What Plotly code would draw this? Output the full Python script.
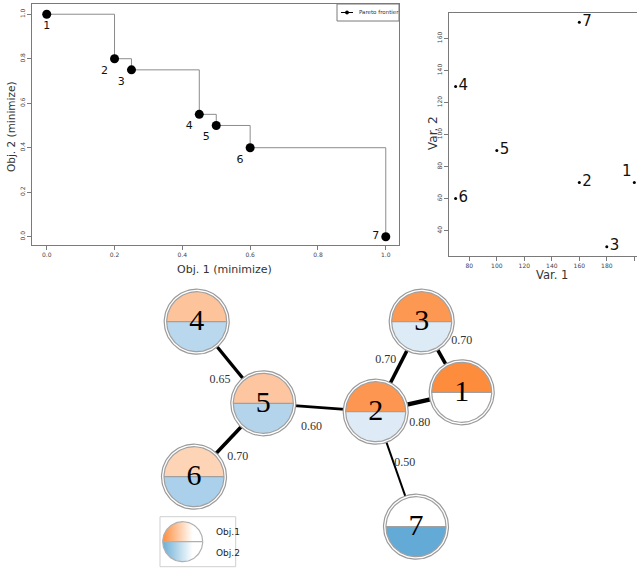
import numpy as np
import plotly.graph_objects as go

# ---------------- data ----------------
ids = ['1', '2', '3', '4', '5', '6', '7']
obj1 = [0.0, 0.2, 0.25, 0.45, 0.5, 0.6, 1.0]
obj2 = [1.0, 0.8, 0.75, 0.55, 0.5, 0.4, 0.0]
var1 = [200, 160, 180, 70, 100, 70, 160]
var2 = [70, 70, 30, 130, 90, 60, 170]

obj_ticks = [0.0, 0.2, 0.4, 0.6, 0.8, 1.0]
var1_ticks = [80, 100, 120, 140, 160, 180, 200]
var2_ticks = [40, 60, 80, 100, 120, 140, 160]

# network layout (node coordinates of the graph drawing)
node_x = [461.7, 375.7, 421.7, 196.7, 263.3, 194.0, 416.0]
node_y = [392.3, 411.7, 321.7, 321.7, 403.3, 476.7, 526.7]
edge_src = ['4', '5', '5', '2', '3', '2', '2']
edge_dst = ['5', '6', '2', '3', '1', '1', '7']
edge_w = [0.65, 0.70, 0.60, 0.70, 0.70, 0.80, 0.50]

# ---------------- styles ----------------
top_colors = ['#fd8d3c', '#fd9650', '#fd9852', '#fdc39a', '#fdc6a0', '#fdd5b6', '#ffffff']
bot_colors = ['#ffffff', '#deebf7', '#dcebf6', '#b9d7ed', '#b4d4eb', '#aad0eb', '#64aad7']
edge_label_offsets = [(-10, 17), (9, 17), (-8, 19), (-13, -7), (20, -16), (1, 21), (9, -6)]
left_textpos = ['bottom center', 'bottom left', 'bottom left', 'bottom left',
                'bottom left', 'bottom left', 'middle left']
right_textpos = ['top left'] + ['middle right'] * 6
FRAME = '#7a7a7a'
W, H = 637, 570

fig = go.Figure()

# ---------------- Pareto plot (left) ----------------
fig.add_trace(go.Scatter(x=obj1, y=obj2, mode='lines', line_shape='hv',
                         line=dict(color='#8c8c8c', width=1), showlegend=False,
                         xaxis='x', yaxis='y'))
fig.add_trace(go.Scatter(x=obj1, y=obj2, mode='markers+text', text=ids,
                         textposition=left_textpos,
                         textfont=dict(family='DejaVu Sans', size=11, color='#111'),
                         marker=dict(color='black', size=9), showlegend=False,
                         xaxis='x', yaxis='y'))

# ---------------- Var plot (right) ----------------
fig.add_trace(go.Scatter(x=var1, y=var2, mode='markers+text', text=ids,
                         textposition=right_textpos,
                         textfont=dict(family='DejaVu Sans', size=15, color='#111'),
                         marker=dict(color='black', size=3), showlegend=False,
                         xaxis='x2', yaxis='y2', cliponaxis=False))

# ---------------- Network (bottom) ----------------
idx = {n: i for i, n in enumerate(ids)}
for s, d, w in zip(edge_src, edge_dst, edge_w):
    i, j = idx[s], idx[d]
    fig.add_trace(go.Scatter(x=[node_x[i], node_x[j]], y=[node_y[i], node_y[j]],
                             mode='lines', line=dict(color='black', width=8 * (w - 0.25)),
                             showlegend=False, xaxis='x3', yaxis='y3', hoverinfo='skip'))

R_OUT, R_IN = 32.5, 30.0
th_full = np.linspace(0, 2 * np.pi, 121)
th_top = np.linspace(0, np.pi, 61)
th_bot = np.linspace(np.pi, 2 * np.pi, 61)
for k in range(len(ids)):
    cx, cy = node_x[k], node_y[k]
    fig.add_trace(go.Scatter(x=cx + R_OUT * np.cos(th_full), y=cy - R_OUT * np.sin(th_full),
                             mode='lines', fill='toself', fillcolor='white',
                             line=dict(color='#9a9a9a', width=1.2), showlegend=False,
                             xaxis='x3', yaxis='y3', hoverinfo='skip'))
    fig.add_trace(go.Scatter(x=cx + R_IN * np.cos(th_top), y=cy - R_IN * np.sin(th_top),
                             mode='lines', fill='toself', fillcolor=top_colors[k],
                             line=dict(width=0), showlegend=False,
                             xaxis='x3', yaxis='y3', hoverinfo='skip'))
    fig.add_trace(go.Scatter(x=cx + R_IN * np.cos(th_bot), y=cy - R_IN * np.sin(th_bot),
                             mode='lines', fill='toself', fillcolor=bot_colors[k],
                             line=dict(width=0), showlegend=False,
                             xaxis='x3', yaxis='y3', hoverinfo='skip'))
    fig.add_trace(go.Scatter(x=list(cx + R_IN * np.cos(th_full)) + [None, cx - R_IN, cx + R_IN],
                             y=list(cy - R_IN * np.sin(th_full)) + [None, cy, cy],
                             mode='lines', line=dict(color='#a0a0a0', width=1.2),
                             showlegend=False, xaxis='x3', yaxis='y3', hoverinfo='skip'))

fig.add_trace(go.Scatter(x=node_x, y=[y + 1 for y in node_y], mode='text', text=ids,
                         textposition='middle center',
                         textfont=dict(family='Liberation Serif', size=30, color='black'),
                         showlegend=False, xaxis='x3', yaxis='y3', hoverinfo='skip'))

lab_x, lab_y, lab_t = [], [], []
for (s, d, w), (ox, oy) in zip(zip(edge_src, edge_dst, edge_w), edge_label_offsets):
    i, j = idx[s], idx[d]
    lab_x.append((node_x[i] + node_x[j]) / 2 + ox)
    lab_y.append((node_y[i] + node_y[j]) / 2 + oy)
    lab_t.append(f'{w:.2f}')
fig.add_trace(go.Scatter(x=lab_x, y=lab_y, mode='text', text=lab_t,
                         textfont=dict(family='Liberation Serif', size=12, color='#333333'),
                         showlegend=False, xaxis='x3', yaxis='y3', hoverinfo='skip'))

# network legend
LX, LY, LR = 182.7, 541.7, 20
fig.add_trace(go.Scatter(x=LX + LR * np.cos(th_top), y=LY - LR * np.sin(th_top),
                         mode='lines', fill='toself',
                         fillgradient=dict(type='horizontal',
                                           colorscale=[[0, '#fd8d3c'], [0.75, '#ffffff'], [1, '#ffffff']]),
                         line=dict(width=0), showlegend=False, xaxis='x3', yaxis='y3', hoverinfo='skip'))
fig.add_trace(go.Scatter(x=LX + LR * np.cos(th_bot), y=LY - LR * np.sin(th_bot),
                         mode='lines', fill='toself',
                         fillgradient=dict(type='horizontal',
                                           colorscale=[[0, '#6baed6'], [0.75, '#ffffff'], [1, '#ffffff']]),
                         line=dict(width=0), showlegend=False, xaxis='x3', yaxis='y3', hoverinfo='skip'))
fig.add_trace(go.Scatter(x=list(LX + LR * np.cos(th_full)) + [None, LX - LR, LX + LR],
                         y=list(LY - LR * np.sin(th_full)) + [None, LY, LY],
                         mode='lines', line=dict(color='#b0b0b0', width=1.2),
                         showlegend=False, xaxis='x3', yaxis='y3', hoverinfo='skip'))

annotations = [
    dict(text='Obj.1', x=214, y=532.3, xref='x3', yref='y3', xanchor='left', showarrow=False,
         font=dict(family='DejaVu Sans', size=9, color='#222')),
    dict(text='Obj.2', x=214, y=552.7, xref='x3', yref='y3', xanchor='left', showarrow=False,
         font=dict(family='DejaVu Sans', size=9, color='#222')),
    dict(text='Obj. 1 (minimize)', x=224 / W, y=1 - 269 / H, xref='paper', yref='paper',
         xanchor='center', yanchor='middle',
         showarrow=False, font=dict(family='DejaVu Sans', size=11, color='#333')),
    dict(text='Obj. 2 (minimize)', x=11 / W, y=1 - 127 / H, xref='paper', yref='paper',
         xanchor='center', yanchor='middle',
         textangle=-90, showarrow=False, font=dict(family='DejaVu Sans', size=10.5, color='#333')),
    dict(text='Var. 1', x=552 / W, y=1 - 275 / H, xref='paper', yref='paper',
         xanchor='center', yanchor='middle',
         showarrow=False, font=dict(family='DejaVu Sans', size=11.5, color='#333')),
    dict(text='Var. 2', x=433 / W, y=1 - 133 / H, xref='paper', yref='paper',
         xanchor='center', yanchor='middle',
         textangle=-90, showarrow=False, font=dict(family='DejaVu Sans', size=12, color='#333')),
    # left plot legend text
    dict(text='Pareto frontier', x=357 / W, y=1 - 12.5 / H, xref='paper', yref='paper',
         xanchor='left', yanchor='middle', showarrow=False,
         font=dict(family='DejaVu Sans', size=5.5, color='#333')),
]

shapes = [
    dict(type='rect', xref='x3', yref='y3', x0=160, x1=235.7, y0=516.7, y1=566.7,
         line=dict(color='#cfcfcf', width=1), layer='below'),
    # left plot legend box and key
    dict(type='rect', xref='paper', yref='paper', x0=337 / W, x1=399 / W,
         y0=1 - 21 / H, y1=1 - 4 / H, line=dict(color=FRAME, width=1), fillcolor='white'),
    dict(type='line', xref='paper', yref='paper', x0=341 / W, x1=353 / W,
         y0=1 - 12.5 / H, y1=1 - 12.5 / H, line=dict(color='black', width=1)),
    dict(type='circle', xref='paper', yref='paper', x0=345.3 / W, x1=348.7 / W,
         y0=1 - 14.2 / H, y1=1 - 10.8 / H, line=dict(color='black', width=0.5), fillcolor='black'),
]

tickfont = dict(family='DejaVu Sans', size=6, color='#444')
axis_common = dict(showgrid=False, zeroline=False, showline=True, linecolor=FRAME, linewidth=1,
                   ticks='outside', ticklen=4, tickcolor=FRAME, tickfont=tickfont)

fig.update_layout(
    width=W, height=H, margin=dict(l=0, r=0, t=0, b=0),
    paper_bgcolor='white', plot_bgcolor='rgba(0,0,0,0)', showlegend=False,
    xaxis=dict(domain=[32 / W, 399 / W], range=[-0.0434, 1.039], tickvals=obj_ticks,
               tickformat='.1f', mirror=True, anchor='y', **axis_common),
    yaxis=dict(domain=[1 - 245 / H, 1 - 4 / H], range=[-0.0373, 1.046], tickvals=obj_ticks,
               tickformat='.1f', tickangle=-90, mirror=True, anchor='x', **axis_common),
    xaxis2=dict(domain=[449 / W, 1], range=[65.2, 201.96], tickvals=var1_ticks,
                mirror=True, anchor='y2', **axis_common),
    yaxis2=dict(domain=[1 - 256 / H, 1 - 13 / H], range=[24.2, 175.8], tickvals=var2_ticks,
                tickangle=-90, mirror=False, anchor='x2', **axis_common),
    xaxis3=dict(domain=[0, 1], range=[0, W], visible=False, anchor='y3'),
    yaxis3=dict(domain=[0, 1 - 272 / H], range=[H, 272], visible=False, anchor='x3'),
    annotations=annotations, shapes=shapes,
)

fig.write_html('out.html')
